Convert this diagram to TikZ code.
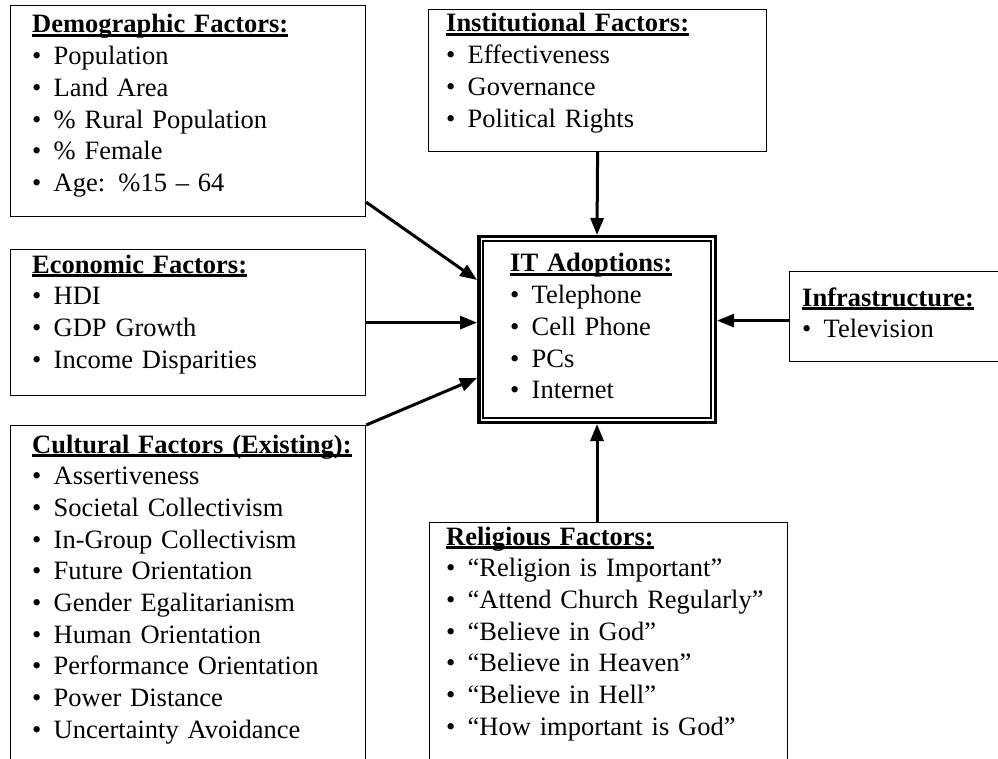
\documentclass[tikz,border=0pt]{standalone}
\usepackage{fontspec}
\setmainfont{Liberation Serif}
\usetikzlibrary{arrows.meta,calc}
\tikzstyle{factor}=[draw, line width=1.2pt, inner sep=0pt, anchor=north west]
\tikzstyle{factortext}=[inner sep=0pt, anchor=base west, text width=340pt, align=left, font=\fontsize{26.5}{31.7}\selectfont]
\tikzstyle{influence}=[line width=3pt, -{Triangle[length=17pt,width=13pt]}]
\newcommand{\hdr}[1]{\setbox0\hbox{\bfseries #1}\rlap{\rule[-4pt]{\wd0}{2.6pt}}\box0}
\newcommand{\itm}[1]{\makebox[21.5pt][l]{\textbullet}#1}

\begin{document}
\begin{tikzpicture}[x=1pt, y=-1pt] % y runs down, like the pixels
\path[use as bounding box, clip] (0,0) rectangle (998,759);
% boxes: top left corner, then size
\node[factor, minimum width=355pt, minimum height=211pt] (demo) at (10,5) {};
\node[factor, minimum width=338pt, minimum height=142pt] (inst) at (428,9) {};
\node[factor, minimum width=355pt, minimum height=146pt] (econ) at (10,249) {};
\node[factor, minimum width=355pt, minimum height=400pt] (cult) at (10,425) {};
\node[factor, minimum width=358pt, minimum height=300pt] (relig) at (429,522) {};
\node[factor, minimum width=260pt, minimum height=90pt] (infra) at (789,271) {};
\node[factor, line width=3.5pt, minimum width=236.5pt, minimum height=185.5pt] (itad) at (477,235) {};
\draw[line width=1.2pt] ($(itad.north west)+(6,6)$) rectangle ($(itad.south east)+(-6,-6)$);

% texts: baseline of the heading
\node[factortext] (demotxt) at (32,33) {\hdr{Demographic Factors:}\\
  \itm{Population}\\ \itm{Land Area}\\ \itm{\% Rural Population}\\ \itm{\% Female}\\ \itm{Age: \%15 -- 64}};
\node[factortext] (insttxt) at (446,32) {\hdr{Institutional Factors:}\\
  \itm{Effectiveness}\\ \itm{Governance}\\ \itm{Political Rights}};
\node[factortext] (econtxt) at (32,273) {\hdr{Economic Factors:}\\
  \itm{HDI}\\ \itm{GDP Growth}\\ \itm{Income Disparities}};
\node[factortext] (itadtxt) at (510,272) {\hdr{IT Adoptions:}\\
  \itm{Telephone}\\ \itm{Cell Phone}\\ \itm{PCs}\\ \itm{Internet}};
\node[factortext] (infratxt) at (802,306) {\hdr{Infrastructure:}\\
  \itm{Television}};
\node[factortext] (culttxt) at (32,453) {\hdr{Cultural Factors (Existing):}\\
  \itm{Assertiveness}\\ \itm{Societal Collectivism}\\ \itm{In-Group Collectivism}\\
  \itm{Future Orientation}\\ \itm{Gender Egalitarianism}\\ \itm{Human Orientation}\\
  \itm{Performance Orientation}\\ \itm{Power Distance}\\ \itm{Uncertainty Avoidance}};
\node[factortext] (religtxt) at (446,545) {\hdr{Religious Factors:}\\
  \itm{``Religion is Important''}\\ \itm{``Attend Church Regularly''}\\ \itm{``Believe in God''}\\
  \itm{``Believe in Heaven''}\\ \itm{``Believe in Hell''}\\ \itm{``How important is God''}};

% arrows into IT Adoptions
\draw[influence] ([yshift=15pt]demo.south east) -- ([yshift=-45pt]itad.north west);
\draw[influence] (inst.south) -- (itad.north);
\draw[influence] (econ.east) -- (econ.east -| itad.west);
\draw[influence] (cult.north east) -- ([yshift=46pt]itad.south west);
\draw[influence] (relig.north -| itad.south) -- (itad.south);
\draw[influence] ([yshift=-4pt]infra.west) -- ([yshift=-4pt]infra.west -| itad.east);
\end{tikzpicture}
\end{document}
